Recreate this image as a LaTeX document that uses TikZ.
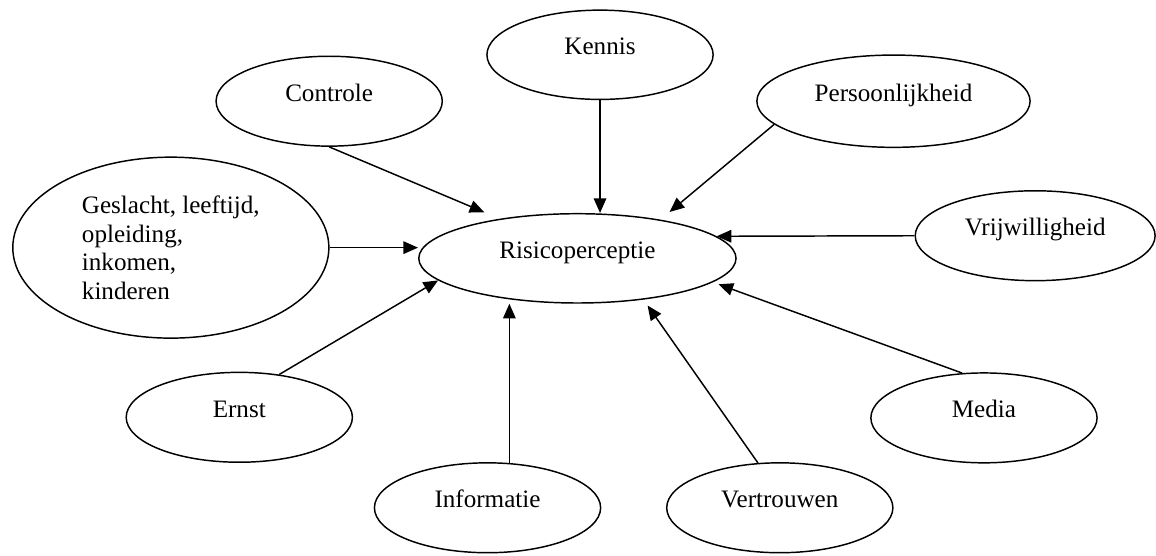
\documentclass[tikz,border=0pt]{standalone}
\usepackage{fontspec}
\setmainfont{Liberation Serif}
\usetikzlibrary{shapes.geometric,arrows.meta}

\begin{document}
\begin{tikzpicture}[
  every node/.style={font=\fontsize{12}{13.6}\selectfont},
  factor/.style={ellipse, draw, line width=0.7pt, inner sep=0pt, minimum width=3.8cm, minimum height=1.51cm, text height=1ex, text depth=1ex},
  link/.style={-{Triangle[length=7pt,width=6pt]}, line width=0.7pt}
]
\useasboundingbox (0,0) rectangle (19.42,-9.34);
\node[factor, minimum width=5.33cm, minimum height=1.5cm] (risico) at (9.70,-4.34) {Risicoperceptie};
\node[factor, minimum height=1.5cm] (kennis) at (10.08,-0.92) {Kennis};
\node[factor] (controle) at (5.53,-1.70) {Controle};
\node[factor, minimum width=4.59cm, minimum height=1.55cm] (persoon) at (15.01,-1.70) {Persoonlijkheid};
\node[ellipse, draw, line width=0.7pt, inner sep=0pt, minimum width=5.31cm, minimum height=3.04cm, align=left] (geslacht) at (2.87,-4.16) {Geslacht, leeftijd,\\opleiding,\\inkomen,\\kinderen};
\node[factor, minimum width=4.03cm] (vrij) at (17.39,-3.96) {Vrijwilligheid};
\node[factor] (ernst) at (4.02,-7.01) {Ernst};
\node[factor] (media) at (16.53,-7.02) {Media};
\node[factor] (informatie) at (8.19,-8.53) {Informatie};
\node[factor] (vertrouwen) at (13.10,-8.53) {Vertrouwen};
\draw[link, shorten >=0.28cm] (controle.south) -- (risico.153);
\draw[link] (kennis.south) -- (kennis.south |- risico.north);
\draw[link, shorten >=0.2cm] (persoon.191) -- (risico.25);
\draw[link] (vrij.west) -- (risico.9);
\draw[link] (geslacht.east) -- (geslacht.east -| risico.west);
\draw[link] (ernst.47) -- (risico.189);
\draw[link] (informatie.64) -- (informatie.64 |- risico.south);
\draw[link, shorten >=0.12cm] (vertrouwen.116) -- (risico.328);
\draw[link, shorten >=0.1cm] (media.116) -- (risico.350);
\end{tikzpicture}
\end{document}
